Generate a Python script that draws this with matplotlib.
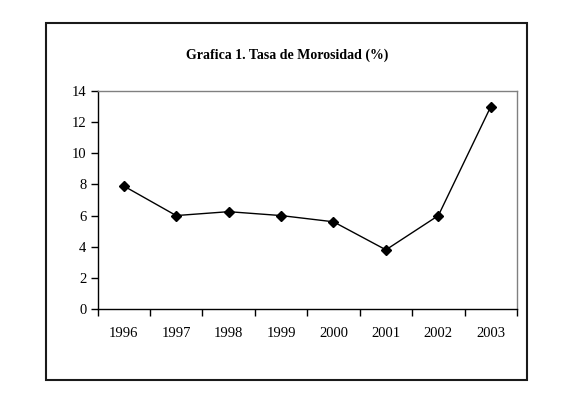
import numpy as np
import matplotlib.pyplot as plt
from matplotlib.patches import Rectangle

years = ['1996', '1997', '1998', '1999', '2000', '2001', '2002', '2003']
morosidad = [7.9, 6.0, 6.25, 6.0, 5.6, 3.8, 6.0, 13.0]

plt.rcParams['font.family'] = ['Liberation Serif', 'DejaVu Serif']

fig = plt.figure(figsize=(5.78, 3.98), dpi=100)
ax = fig.add_axes([0.1687, 0.2236, 0.7258, 0.5478])

x = np.arange(len(years))
ax.plot(x, morosidad, color='black', lw=1.0, marker='D', markersize=5.5,
        markerfacecolor='black', markeredgecolor='black')

ax.set_xlim(-0.5, len(years) - 0.5)
ax.set_ylim(0, 14)
ax.set_yticks(range(0, 15, 2))
ax.set_xticks(x)
ax.set_xticklabels(years)
ax.set_xticks(np.arange(-0.5, len(years)), minor=True)
ax.tick_params(axis='x', which='major', length=0, pad=13, labelsize=10.5)
ax.tick_params(axis='x', which='minor', length=5, width=1, direction='out')
ax.tick_params(axis='y', length=5, width=1, direction='out', pad=3, labelsize=10.5)

for s in ['left', 'bottom']:
    ax.spines[s].set_color('black')
    ax.spines[s].set_linewidth(1.0)
for s in ['top', 'right']:
    ax.spines[s].set_color('#808080')
    ax.spines[s].set_linewidth(1.0)

fig.text(0.497, 0.862, 'Grafica 1. Tasa de Morosidad (%)', ha='center', va='center',
         fontsize=10, fontweight='bold')

fig.patches.append(Rectangle((0.0796, 0.0452), 0.8322, 0.897, transform=fig.transFigure,
                             fill=False, edgecolor='#1a1a1a', linewidth=1.5))

fig.savefig('out.png', dpi=100)
